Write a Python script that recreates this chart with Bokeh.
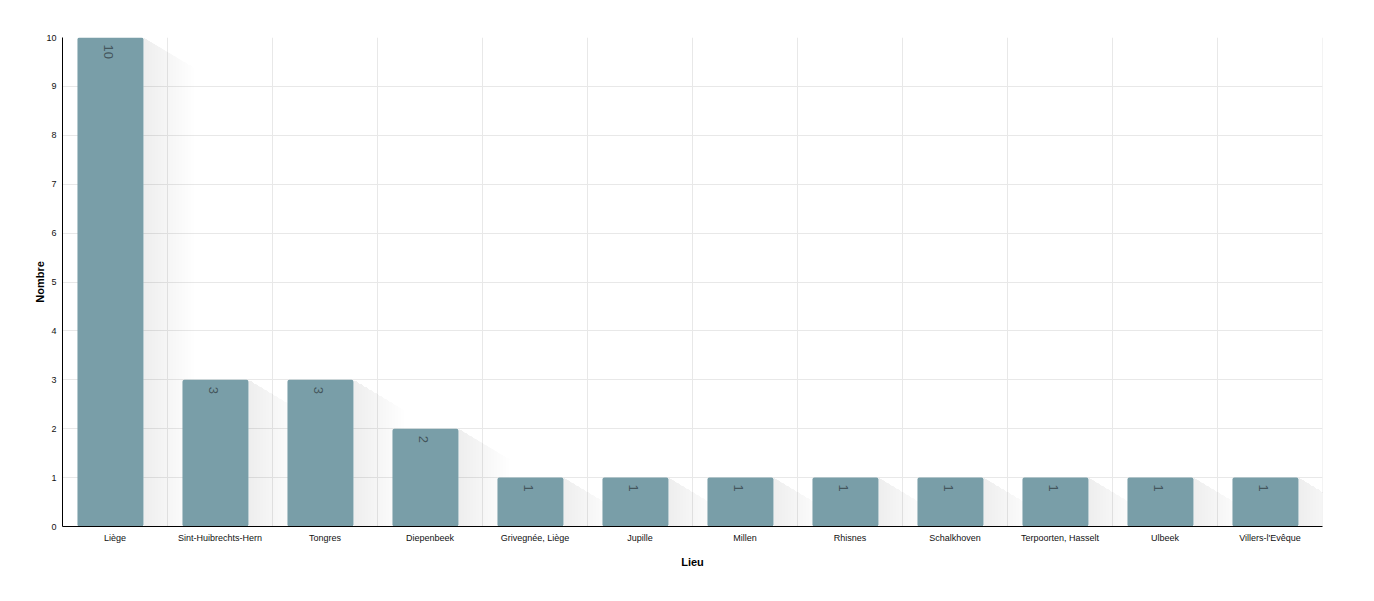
from bokeh.plotting import figure
from bokeh.models import FixedTicker, ColumnDataSource
from bokeh.embed import file_html
from bokeh.resources import INLINE
from bokeh.core.properties import value

lieux = ["Liège", "Sint-Huibrechts-Hern", "Tongres", "Diepenbeek", "Grivegnée, Liège",
         "Jupille", "Millen", "Rhisnes", "Schalkhoven", "Terpoorten, Hasselt", "Ulbeek",
         "Villers-l'Evêque"]
nombres = [10, 3, 3, 2, 1, 1, 1, 1, 1, 1, 1, 1]

n = len(lieux)
BAR_OFF = 0.457
BAR_W = 0.629

p = figure(width=1366, height=585, x_range=(0, n), y_range=(0, 10),
           output_backend="svg", toolbar_location=None,
           min_border_left=62, min_border_right=44, min_border_top=37, min_border_bottom=59)
p.outline_line_color = None
p.background_fill_color = "white"

p.xaxis.ticker = FixedTicker(ticks=[i + 0.5 for i in range(n)])
p.xaxis.major_label_overrides = {i + 0.5: lab for i, lab in enumerate(lieux)}
p.yaxis.ticker = FixedTicker(ticks=list(range(0, 11)))
p.xgrid.visible = False
p.ygrid.grid_line_color = "#e8e8e8"
p.ygrid.grid_line_width = 1

p.segment(x0=list(range(1, n + 1)), y0=[0] * n, x1=list(range(1, n + 1)), y1=[10] * n,
          line_color="#e8e8e8", line_width=1)

# shadows
px_x = 1.0 / 105.0
px_y = 10.0 / 489.0
for d in range(3, 54, 3):
    xs, ys = [], []
    for i, v in enumerate(nombres):
        x1 = i + BAR_OFF + BAR_W / 2
        dx = d * px_x
        dy = 0.6 * d * px_y
        xs.append([x1, x1 + dx, x1 + dx, x1])
        ys.append([v, max(v - dy, 0), 0, 0])
    p.patches(xs, ys, fill_color="#9a9ea2", fill_alpha=0.012, line_color=None)

src = ColumnDataSource(dict(x=[i + BAR_OFF for i in range(n)], top=nombres,
                            lab=[str(v) for v in nombres]))
p.vbar(x="x", top="top", bottom=0, width=BAR_W, source=src,
       fill_color="#799ea8", line_color=None, border_radius=2)

p.text(x="x", y="top", text="lab", source=src, angle=-1.5708,
       text_align="left", text_baseline="middle", y_offset=7, x_offset=-2,
       text_font=value("Liberation Sans"), text_font_size="13px",
       text_color="#3d4c52", text_alpha=0.9)

for ax in (p.xaxis[0], p.yaxis[0]):
    ax.axis_line_color = "black"
    ax.axis_line_width = 1
    ax.major_tick_line_color = None
    ax.minor_tick_line_color = None
    ax.major_tick_out = 0
    ax.major_tick_in = 0
    ax.minor_tick_out = 0
    ax.major_label_text_font = "Liberation Sans"
    ax.major_label_text_font_size = "9px"
    ax.major_label_text_color = "#111111"
    ax.axis_label_text_font = "Liberation Sans"
    ax.axis_label_text_font_size = "11px"
    ax.axis_label_text_font_style = "bold"
    ax.axis_label_text_color = "black"

p.xaxis.axis_label = "Lieu"
p.yaxis.axis_label = "Nombre"
p.xaxis.major_label_standoff = 6
p.yaxis.major_label_standoff = 6
p.xaxis.axis_label_standoff = 10
p.yaxis.axis_label_standoff = -3

open("out.html", "w").write(file_html(p, INLINE))
